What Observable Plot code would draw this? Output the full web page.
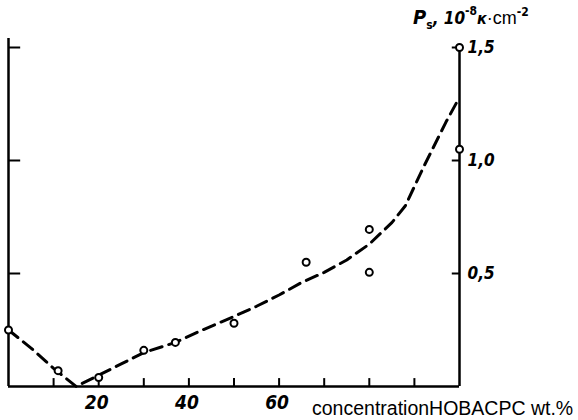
<!DOCTYPE html>
<html>
<head>
<meta charset="utf-8">
<script src="https://cdn.jsdelivr.net/npm/d3@7"></script>
<script src="https://cdn.jsdelivr.net/npm/@observablehq/plot@0.6"></script>
<style>
  html, body { margin: 0; padding: 0; background: #fff; }
  #chart svg { display: block; }
</style>
</head>
<body>
<div id="chart"></div>
<script>
// Measured points (open circles)
const concX = [0, 11, 20, 30, 37, 50, 66, 80, 80, 100, 100];
const psY   = [0.25, 0.07, 0.04, 0.16, 0.195, 0.28, 0.55, 0.695, 0.505, 1.05, 1.5];

// Dashed curve
const fitX = [0, 5, 10, 15, 20, 25, 30, 37, 43, 50, 55, 60, 65, 70, 75, 80, 85, 88, 92, 97, 100];
const fitY = [0.25, 0.17, 0.08, 0, 0.05, 0.1, 0.15, 0.195, 0.25, 0.31, 0.355, 0.405, 0.46, 0.505, 0.56, 0.63, 0.725, 0.8, 0.97, 1.17, 1.28];

// Ticks
const xTicks = [10, 20, 30, 40, 50, 60, 70, 80, 90];
const xLabels = [20, 40, 60];
const yTicks = [0.5, 1.0, 1.5];
const yLabels = ["0,5", "1,0", "1,5"];

const points = concX.map((x, i) => ({x, y: psY[i]}));
const curve = fitX.map((x, i) => ({x, y: fitY[i]}));
const yLab = yTicks.map((y, i) => ({y, t: yLabels[i]}));

const labFont = "'DejaVu Sans Condensed', 'DejaVu Sans', sans-serif";

const chart = Plot.plot({
  width: 578,
  height: 420,
  marginLeft: 8,
  marginRight: 119,
  marginTop: 47,
  marginBottom: 34,
  style: {background: "#fff", color: "#000"},
  x: {domain: [0, 100], axis: null},
  y: {domain: [0, 1.5], axis: null},
  marks: [
    // frame lines
    Plot.ruleX([0], {y1: 0, y2: 1.54, stroke: "#000", strokeWidth: 2.5, clip: false}),
    Plot.ruleX([100], {y1: 0, y2: 1.5, stroke: "#000", strokeWidth: 2.5}),
    Plot.ruleY([0], {x1: 0, x2: 100, stroke: "#000", strokeWidth: 2.5}),
    // inward ticks
    Plot.ruleX(xTicks, {y1: 0, y2: 0.035, stroke: "#000", strokeWidth: 2}),
    Plot.ruleY(yTicks, {x1: 0, x2: 2.7, stroke: "#000", strokeWidth: 2}),
    Plot.ruleY(yTicks, {x1: 98.4, x2: 100, stroke: "#000", strokeWidth: 2}),
    // tick labels
    Plot.text(xLabels, {x: (d) => d, frameAnchor: "bottom", dy: 22, dx: -2,
      text: (d) => String(d), fontSize: 19, fontWeight: "bold", fontStyle: "italic",
      fontFamily: labFont, fill: "#000"}),
    Plot.text(yLab, {y: "y", text: "t", frameAnchor: "right", dx: 8, textAnchor: "start",
      fontSize: 17, fontWeight: "bold", fontStyle: "italic",
      fontFamily: labFont, fill: "#000"}),
    // dashed curve
    Plot.line(curve, {x: "x", y: "y", stroke: "#000", strokeWidth: 3,
      strokeDasharray: "12,7", curve: "linear"}),
    // points
    Plot.dot(points, {x: "x", y: "y", r: 3.5, stroke: "#000", strokeWidth: 2, fill: "#fff"})
  ]
});

document.getElementById("chart").appendChild(chart);

// Titles / axis captions added as text
const svg = d3.select(chart);
const t = svg.append("text")
  .attr("x", 413).attr("y", 24)
  .attr("text-anchor", "start")
  .attr("font-family", labFont)
  .attr("font-size", 17)
  .attr("fill", "#000");
t.append("tspan").attr("font-weight", "bold").attr("font-style", "italic").attr("font-size", 20).text("P");
t.append("tspan").attr("font-weight", "bold").attr("font-size", 12).attr("dy", 5).text("s");
t.append("tspan").attr("font-weight", "bold").attr("font-style", "italic").attr("font-size", 17).attr("dy", -5).text(", 10");
t.append("tspan").attr("font-weight", "bold").attr("font-size", 12).attr("dy", -9).text("-8");
t.append("tspan").attr("font-weight", "bold").attr("font-style", "italic").attr("font-size", 16).attr("dy", 9).text("к");
t.append("tspan").attr("font-family", "'Liberation Sans', Arial, sans-serif").attr("font-size", 18).text("·cm");
t.append("tspan").attr("font-weight", "bold").attr("font-size", 12).attr("dy", -8).text("-2");

svg.append("text")
  .attr("x", 312).attr("y", 415)
  .attr("text-anchor", "start")
  .attr("font-family", "'Liberation Sans', Arial, sans-serif")
  .attr("font-size", 19.5)
  .attr("fill", "#000")
  .text("concentrationHOBACPC wt.%");
</script>
</body>
</html>
